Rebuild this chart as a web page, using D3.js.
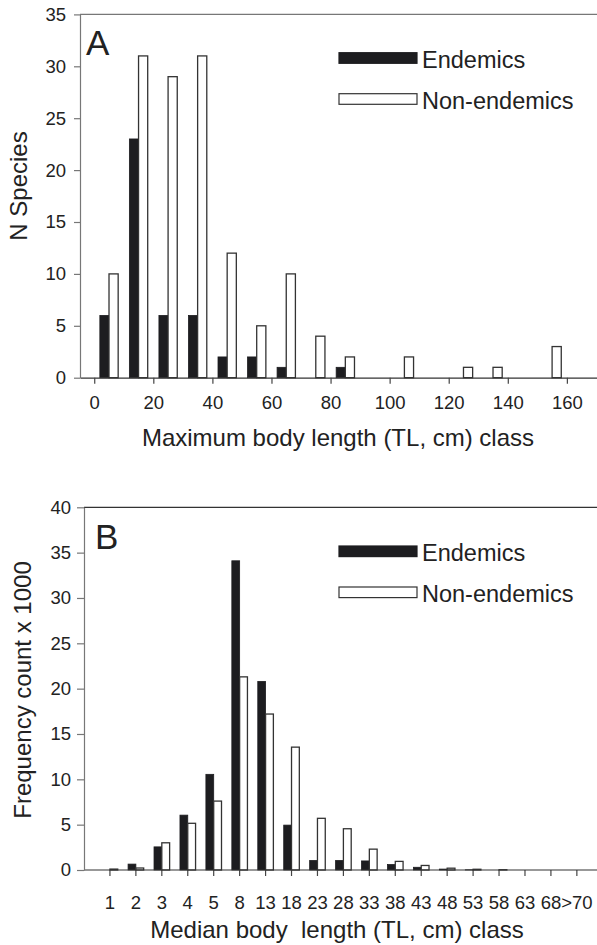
<!DOCTYPE html>
<html>
<head>
<meta charset="utf-8">
<script src="https://cdn.jsdelivr.net/npm/d3@7"></script>
<style>
  html, body { margin: 0; padding: 0; background: #fff; }
  svg { display: block; font-family: "Liberation Sans", Arial, Helvetica, sans-serif; }
</style>
</head>
<body>
<svg id="chart" width="597" height="945"></svg>
<script>
// Panel A: species counts per maximum body length class (class midpoints, cm)
const lengthClassesA = [5, 15, 25, 35, 45, 55, 65, 75, 85, 95, 105, 115, 125, 135, 145, 155];
const endemicsA      = [6, 23, 6, 6, 2, 2, 1, 0, 1, 0, 0, 0, 0, 0, 0, 0];
const nonEndemicsA   = [10, 31, 29, 31, 12, 5, 10, 4, 2, 0, 2, 0, 1, 1, 0, 3];
const xTicksA = [0, 20, 40, 60, 80, 100, 120, 140, 160];
const yTicksA = [0, 5, 10, 15, 20, 25, 30, 35];

// Panel B: frequency counts (x 1000) per median body length class
const lengthClassesB = ["1", "2", "3", "4", "5", "8", "13", "18", "23", "28", "33", "38", "43", "48", "53", "58", "63", "68", ">70"];
const endemicsB      = [0, 0.65, 2.55, 6.05, 10.55, 34.1, 20.8, 4.95, 1.05, 1.05, 1.0, 0.6, 0.3, 0.1, 0.02, 0, 0, 0, 0];
const nonEndemicsB   = [0.1, 0.22, 3.0, 5.15, 7.6, 21.3, 17.2, 13.55, 5.7, 4.55, 2.3, 0.95, 0.5, 0.2, 0.08, 0.03, 0, 0, 0];
const yTicksB = [0, 5, 10, 15, 20, 25, 30, 35, 40];

const seriesNames = ["Endemics", "Non-endemics"];

const svg = d3.select("#chart");
const ink = "#222";
const darkFill = "#1d1d20";

function styleAxis(g, lineColor) {
  g.selectAll(".domain").attr("stroke", lineColor).attr("stroke-width", 1.2);
  g.selectAll(".tick line").attr("stroke", lineColor).attr("stroke-width", 1.2);
  g.selectAll(".tick text").attr("fill", ink).style("font-size", "18.5px");
}

function legend(g, x, yFirst, gap) {
  seriesNames.forEach((name, i) => {
    const y = yFirst + i * gap;
    g.append("rect")
      .attr("x", x).attr("y", y - 5.3)
      .attr("width", 78).attr("height", 10.6)
      .attr("fill", i === 0 ? darkFill : "#fff")
      .attr("stroke", i === 0 ? darkFill : "#333")
      .attr("stroke-width", 1.2);
    g.append("text")
      .attr("x", x + 83).attr("y", y + 10)
      .attr("fill", ink).style("font-size", "23.5px")
      .text(name);
  });
}

// ---------------- Panel A ----------------
{
  const left = 80, right = 597, top = 14.4, bottom = 377.7;
  const x = d3.scaleLinear().domain([-4.82, 170.2]).range([left, right]);
  const y = d3.scaleLinear().domain([0, 35]).range([bottom, top]);
  const barW = x(3.1) - x(0);
  const g = svg.append("g");

  // top frame line
  g.append("line").attr("x1", left).attr("x2", right).attr("y1", top).attr("y2", top)
    .attr("stroke", "#777").attr("stroke-width", 1.2);

  g.selectAll("rect.endA").data(lengthClassesA.map((c, i) => ({ c, v: endemicsA[i] })).filter(d => d.v > 0))
    .join("rect")
    .attr("x", d => x(d.c) - barW).attr("width", barW)
    .attr("y", d => y(d.v)).attr("height", d => y(0) - y(d.v))
    .attr("fill", darkFill).attr("stroke", darkFill).attr("stroke-width", 0.8);

  g.selectAll("rect.nonA").data(lengthClassesA.map((c, i) => ({ c, v: nonEndemicsA[i] })).filter(d => d.v > 0))
    .join("rect")
    .attr("x", d => x(d.c)).attr("width", barW)
    .attr("y", d => y(d.v)).attr("height", d => y(0) - y(d.v))
    .attr("fill", "#fff").attr("stroke", "#333").attr("stroke-width", 1.3);

  const ax = g.append("g").attr("transform", `translate(0,${bottom})`)
    .call(d3.axisBottom(x).tickValues(xTicksA).tickSize(6).tickPadding(12).tickSizeOuter(0));
  styleAxis(ax, "#444");
  ax.select(".domain").attr("stroke", "#333");

  const ay = g.append("g").attr("transform", `translate(${left},0)`)
    .call(d3.axisLeft(y).tickValues(yTicksA).tickSize(6).tickPadding(8).tickSizeOuter(0));
  styleAxis(ay, "#777");

  g.append("text").attr("x", 338).attr("y", 446).attr("text-anchor", "middle")
    .attr("fill", ink).style("font-size", "24px")
    .text("Maximum body length (TL, cm) class");
  g.append("text").attr("transform", "translate(27,186) rotate(-90)")
    .attr("text-anchor", "middle").attr("fill", ink).style("font-size", "24px")
    .text("N Species");
  g.append("text").attr("x", 86).attr("y", 55).attr("fill", ink)
    .style("font-size", "35px").text("A");

  legend(g, 339, 58, 41);
}

// ---------------- Panel B ----------------
{
  const left = 84, right = 597, top = 507.3, bottom = 870;
  const step = 25.94;
  const x = d3.scaleBand().domain(lengthClassesB)
    .range([left + step / 2, left + step / 2 + step * lengthClassesB.length]).padding(0);
  const y = d3.scaleLinear().domain([0, 40]).range([bottom, top]);
  const barW = 7.8;
  const cx = c => x(c) + x.bandwidth() / 2;
  const g = svg.append("g");

  g.append("line").attr("x1", left).attr("x2", right).attr("y1", top).attr("y2", top)
    .attr("stroke", "#333").attr("stroke-width", 1.2);

  g.selectAll("rect.endB").data(lengthClassesB.map((c, i) => ({ c, v: endemicsB[i] })).filter(d => d.v > 0))
    .join("rect")
    .attr("x", d => cx(d.c) - barW).attr("width", barW)
    .attr("y", d => y(d.v)).attr("height", d => y(0) - y(d.v))
    .attr("fill", darkFill).attr("stroke", darkFill).attr("stroke-width", 0.8);

  g.selectAll("rect.nonB").data(lengthClassesB.map((c, i) => ({ c, v: nonEndemicsB[i] })).filter(d => d.v > 0))
    .join("rect")
    .attr("x", d => cx(d.c)).attr("width", barW)
    .attr("y", d => y(d.v)).attr("height", d => y(0) - y(d.v))
    .attr("fill", "#fff").attr("stroke", "#333").attr("stroke-width", 1.3);

  const ax = g.append("g").attr("transform", `translate(0,${bottom})`)
    .call(d3.axisBottom(x).tickSize(6).tickPadding(20).tickSizeOuter(0));
  ax.select(".domain").remove();
  ax.append("line").attr("x1", left).attr("x2", right).attr("stroke", "#333").attr("stroke-width", 1.2);
  styleAxis(ax, "#444");

  const ay = g.append("g").attr("transform", `translate(${left},0)`)
    .call(d3.axisLeft(y).tickValues(yTicksB).tickSize(7).tickPadding(6).tickSizeOuter(0));
  styleAxis(ay, "#777");

  g.append("text").attr("x", 337).attr("y", 938).attr("text-anchor", "middle")
    .attr("fill", ink).style("font-size", "24px").attr("xml:space", "preserve")
    .text("Median body  length (TL, cm) class");
  g.append("text").attr("transform", "translate(31,690) rotate(-90)")
    .attr("text-anchor", "middle").attr("fill", ink).style("font-size", "24px")
    .text("Frequency count x 1000");
  g.append("text").attr("x", 95).attr("y", 549).attr("fill", ink)
    .style("font-size", "35px").text("B");

  legend(g, 339, 551.3, 41);
}
</script>
</body>
</html>
